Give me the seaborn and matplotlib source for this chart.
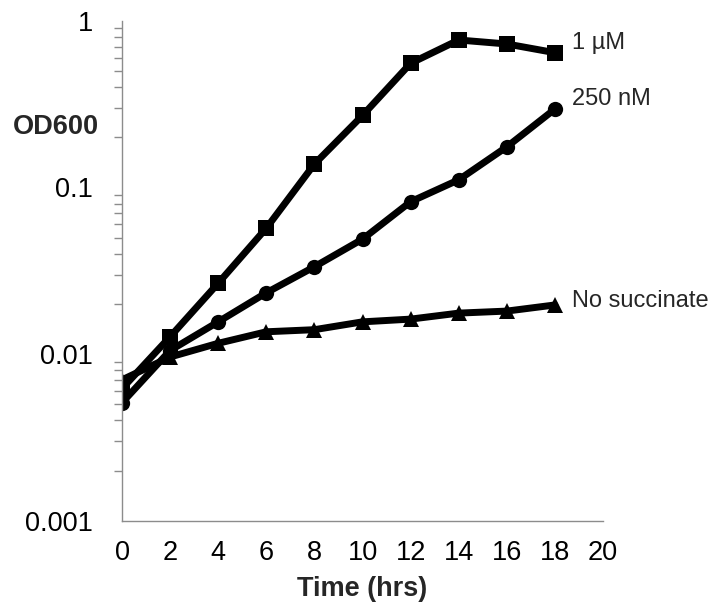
import numpy as np
import pandas as pd
import matplotlib
matplotlib.use("Agg")
import matplotlib.pyplot as plt
import seaborn as sns
from matplotlib.ticker import FixedLocator, LogLocator, NullFormatter

# ---- data ----
time_hrs = [0, 2, 4, 6, 8, 10, 12, 14, 16, 18]
od_1uM = [0.0062, 0.0127, 0.0266, 0.0569, 0.138, 0.27, 0.555, 0.766, 0.725, 0.643]
od_250nM = [0.0051, 0.0105, 0.0156, 0.0233, 0.0334, 0.0489, 0.082, 0.111, 0.175, 0.295]
od_none = [0.0070, 0.0096, 0.0116, 0.0136, 0.0140, 0.0156, 0.0162, 0.0176, 0.0181, 0.0197]
series_names = ["1 \u00b5M", "250 nM", "No succinate"]
x_ticks = [0, 2, 4, 6, 8, 10, 12, 14, 16, 18, 20]
y_ticks = [0.001, 0.01, 0.1, 1]
y_tick_labels = ["0.001", "0.01", "0.1", "1"]

df = pd.DataFrame({
    "time": time_hrs * 3,
    "od": od_1uM + od_250nM + od_none,
    "series": [series_names[0]] * len(time_hrs)
              + [series_names[1]] * len(time_hrs)
              + [series_names[2]] * len(time_hrs),
})

sns.set_theme(style="white")
plt.rcParams["font.family"] = ["Liberation Sans", "DejaVu Sans"]

fig = plt.figure(figsize=(7.15, 6.09), dpi=100)
ax = fig.add_axes([122 / 715, 1 - 520.7 / 609, (603 - 122) / 715, (520.7 - 20.7) / 609])

sns.lineplot(
    data=df, x="time", y="od", hue="series", style="series",
    markers={series_names[0]: "s", series_names[1]: "o", series_names[2]: "^"},
    dashes=False,
    palette={n: "black" for n in series_names},
    linewidth=5.0, markersize=11, markeredgewidth=0,
    legend=False, ax=ax, sort=False,
)
for line in ax.get_lines():
    line.set_solid_joinstyle("round")
    line.set_solid_capstyle("round")

ax.set_yscale("log")
ax.set_ylim(0.001, 1)
ax.set_xlim(0, 20)
ax.xaxis.set_major_locator(FixedLocator(x_ticks))
ax.set_xticklabels([str(t) for t in x_ticks])
ax.yaxis.set_major_locator(FixedLocator(y_ticks))
ax.set_yticklabels(y_tick_labels)
ax.yaxis.set_minor_locator(LogLocator(base=10, subs=np.arange(2, 10)))
ax.yaxis.set_minor_formatter(NullFormatter())

spine_col = "#8c8c8c"
for s in ["top", "right"]:
    ax.spines[s].set_visible(False)
for s in ["left", "bottom"]:
    ax.spines[s].set_color(spine_col)
    ax.spines[s].set_linewidth(1.0)

ax.tick_params(axis="both", which="major", direction="out", length=7, width=1.0,
               color=spine_col, labelsize=19.5, labelcolor="black")
ax.tick_params(axis="y", which="major", pad=14)
ax.tick_params(axis="x", which="major", pad=7)
ax.tick_params(axis="y", which="minor", direction="out", length=6, width=1.0,
               color=spine_col, left=True)
ax.set_xlabel("Time (hrs)", fontsize=19.5, fontweight="bold", labelpad=7)
ax.set_ylabel("")
fig.text(56 / 715, 1 - 127 / 609, "OD600", fontsize=19.5, fontweight="bold",
         ha="center", va="center")

# series labels at the last point
offsets = [(12, 7), (12, 7), (12, 3)]
for name, vals, off in zip(series_names, [od_1uM, od_250nM, od_none], offsets):
    ax.annotate(name, xy=(time_hrs[-1], vals[-1]), xytext=off,
                textcoords="offset points", fontsize=17, va="center", ha="left",
                annotation_clip=False)

ax.grid(False)
fig.savefig("out.png", dpi=100, facecolor="white")
